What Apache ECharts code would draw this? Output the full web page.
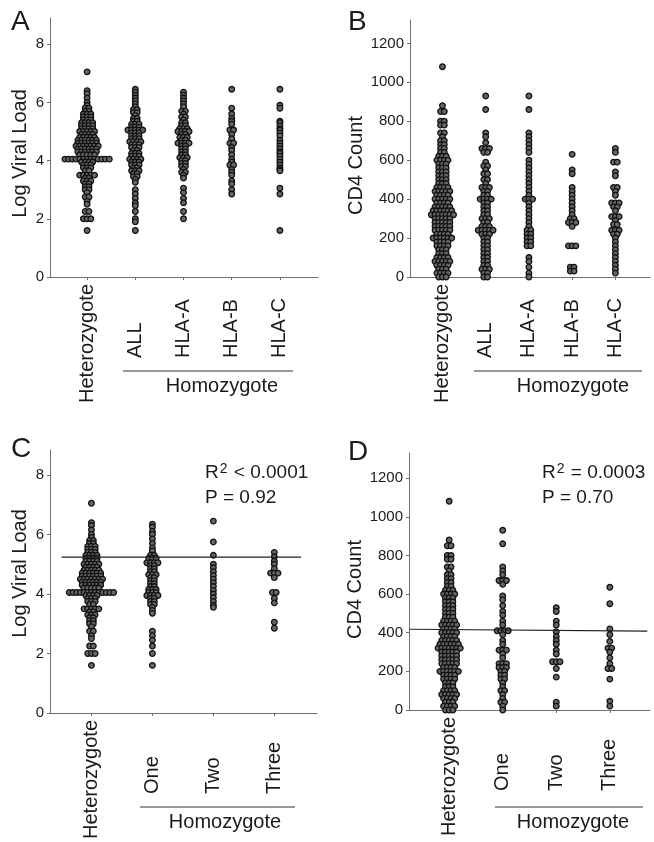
<!DOCTYPE html>
<html>
<head>
<meta charset="utf-8">
<script src="https://cdn.jsdelivr.net/npm/echarts@6/dist/echarts.min.js"></script>
<style>
html, body { margin: 0; padding: 0; background: #fff; }
#main { width: 654px; height: 842px; }
</style>
</head>
<body>
<div id="main"></div>
<script>
// group labels
var groupsAB = ['Heterozygote', 'ALL', 'HLA-A', 'HLA-B', 'HLA-C'];
var groupsCD = ['Heterozygote', 'One', 'Two', 'Three'];
var vlTicks = [0, 2, 4, 6, 8];
var cd4Ticks = [0, 200, 400, 600, 800, 1000, 1200];

// log viral load, one value per patient
var vlHetero = [7.05, 6.4, 6.3, 6.15, 6.0, 5.9, 5.8, 5.8, 5.7, 5.7, 5.6, 5.6, 5.6, 5.5, 5.5, 5.5, 5.4, 5.4, 5.4,
  5.3, 5.3, 5.3, 5.3, 5.2, 5.2, 5.2, 5.2, 5.1, 5.1, 5.1, 5.1, 5.0, 5.0, 5.0, 5.0, 5.0,
  4.9, 4.9, 4.9, 4.9, 4.8, 4.8, 4.8, 4.8, 4.8, 4.7, 4.7, 4.7, 4.7, 4.7, 4.7,
  4.6, 4.6, 4.6, 4.6, 4.6, 4.6, 4.5, 4.5, 4.5, 4.5, 4.5, 4.5, 4.5, 4.4, 4.4, 4.4, 4.4, 4.4, 4.4,
  4.3, 4.3, 4.3, 4.3, 4.3, 4.3, 4.2, 4.2, 4.2, 4.2, 4.2,
  4.05, 4.05, 4.05, 4.05, 4.05, 4.05, 4.05, 4.05, 4.05, 4.05, 4.05, 4.05, 4.05,
  3.95, 3.95, 3.95, 3.95, 3.85, 3.85, 3.85, 3.75, 3.75, 3.75, 3.65, 3.65, 3.5, 3.5, 3.5, 3.5, 3.5,
  3.4, 3.4, 3.3, 3.3, 3.3, 3.2, 3.2, 3.1, 3.1, 3.0, 3.0, 2.9, 2.75, 2.75, 2.6, 2.5, 2.25, 2.25,
  2.0, 2.0, 2.0, 1.6];
var vlAll = [6.45, 6.35, 6.25, 6.15, 6.05, 5.95, 5.85, 5.75, 5.75, 5.65, 5.65, 5.55, 5.45, 5.45, 5.35, 5.35,
  5.25, 5.25, 5.25, 5.15, 5.15, 5.15, 5.05, 5.05, 5.05, 5.05, 5.05, 4.95, 4.95, 4.95, 4.85, 4.85, 4.85,
  4.75, 4.75, 4.75, 4.65, 4.65, 4.65, 4.65, 4.55, 4.55, 4.55, 4.45, 4.45, 4.45, 4.35, 4.35,
  4.25, 4.25, 4.25, 4.15, 4.15, 4.15, 4.05, 4.05, 4.05, 4.05, 3.95, 3.95, 3.95, 3.85, 3.85, 3.85,
  3.75, 3.75, 3.65, 3.65, 3.65, 3.55, 3.55, 3.45, 3.45, 3.35, 3.25, 3.0, 2.85, 2.7, 2.55, 2.45, 2.25,
  2.0, 1.9, 1.6];
var vlHlaA = [6.35, 6.25, 6.15, 6.05, 5.95, 5.85, 5.7, 5.7, 5.6, 5.5, 5.5, 5.4, 5.3, 5.3, 5.2, 5.2,
  5.1, 5.1, 5.1, 5.0, 5.0, 5.0, 5.0, 4.9, 4.9, 4.8, 4.8, 4.8, 4.7, 4.7, 4.6, 4.6, 4.6, 4.6,
  4.5, 4.5, 4.4, 4.4, 4.3, 4.3, 4.2, 4.2, 4.1, 4.1, 4.1, 4.0, 4.0, 3.9, 3.9, 3.8, 3.8, 3.7,
  3.6, 3.6, 3.5, 3.4, 3.05, 2.9, 2.7, 2.55, 2.25, 2.0];
var vlHlaB = [6.45, 5.8, 5.6, 5.45, 5.35, 5.25, 5.05, 5.05, 4.9, 4.75, 4.6, 4.6, 4.45, 4.35, 4.2,
  4.05, 3.95, 3.85, 3.85, 3.7, 3.6, 3.5, 3.3, 3.2, 3.0, 2.85];
var vlHlaC = [6.45, 5.9, 5.8, 5.35, 5.3, 5.2, 5.1, 5.05, 4.95, 4.85, 4.7, 4.6, 4.5, 4.4, 4.3, 4.25,
  4.15, 4.05, 3.95, 3.85, 3.75, 3.7, 3.65, 3.05, 2.85, 1.6];
var vlOne = [6.35, 6.25, 6.1, 6.0, 5.85, 5.7, 5.55, 5.45, 5.3, 5.3, 5.2, 5.2, 5.2, 5.05, 5.05, 5.05, 5.05,
  4.95, 4.95, 4.85, 4.85, 4.75, 4.75, 4.65, 4.65, 4.65, 4.55, 4.55, 4.45, 4.45, 4.35, 4.35, 4.25, 4.25,
  4.15, 4.15, 4.15, 4.05, 4.05, 4.05, 3.95, 3.95, 3.95, 3.95, 3.85, 3.85, 3.75, 3.75, 3.65, 3.65,
  3.55, 3.45, 3.35, 2.75, 2.6, 2.45, 2.25, 2.0, 1.6];
var vlTwo = [6.45, 5.75, 5.3, 5.0, 4.88, 4.75, 4.62, 4.5, 4.38, 4.25, 4.12, 4.0, 3.88, 3.75, 3.62, 3.55];
var vlThree = [5.4, 5.25, 5.1, 5.0, 4.85, 4.7, 4.7, 4.7, 4.55, 4.05, 4.05, 3.85, 3.7, 3.05, 2.85];

// CD4 count, one value per patient
var cd4Hetero = [1080, 880, 850, 850, 800, 800, 780, 780, 740, 740, 720, 700, 700, 680, 680, 660, 660, 640, 640,
  620, 620, 620, 600, 600, 600, 600, 580, 580, 580, 560, 560, 560, 540, 540, 540, 520, 520, 520,
  500, 500, 500, 480, 480, 480, 460, 460, 460, 460, 440, 440, 440, 440, 440, 420, 420, 420, 420,
  400, 400, 400, 400, 400, 380, 380, 380, 380, 360, 360, 360, 360, 360, 340, 340, 340, 340, 340, 340,
  320, 320, 320, 320, 320, 320, 320, 300, 300, 300, 300, 300, 280, 280, 280, 280, 280,
  260, 260, 260, 260, 260, 240, 240, 240, 240, 240, 220, 220, 220, 220, 200, 200, 200, 200, 200, 200,
  180, 180, 180, 180, 160, 160, 160, 160, 140, 140, 140, 120, 120, 120, 100, 100, 100, 100,
  80, 80, 80, 80, 80, 60, 60, 60, 60, 40, 40, 40, 20, 20, 20, 20, 0, 0, 0];
var cd4All = [930, 860, 740, 720, 690, 660, 660, 660, 640, 640, 590, 570, 570, 550, 530, 530, 500, 500, 480,
  460, 460, 460, 440, 440, 420, 420, 400, 400, 400, 400, 380, 380, 360, 360, 340, 340, 320, 320,
  300, 300, 300, 280, 280, 260, 260, 260, 240, 240, 240, 240, 240, 220, 220, 220, 200, 200,
  180, 180, 160, 160, 140, 140, 120, 120, 100, 100, 80, 80, 60, 60, 40, 40, 40, 20, 20, 0, 0];
var cd4HlaA = [930, 860, 740, 720, 700, 680, 660, 640, 600, 580, 560, 540, 520, 500, 480, 460, 440, 420,
  400, 400, 400, 380, 360, 340, 320, 300, 280, 260, 240, 240, 220, 220, 200, 200, 180, 180, 160, 160,
  100, 80, 50, 20, 0];
var cd4HlaB = [630, 550, 530, 460, 440, 420, 400, 380, 360, 340, 320, 300, 300, 280, 280, 280, 260,
  160, 160, 160, 50, 50, 30, 30];
var cd4HlaC = [660, 640, 590, 590, 540, 520, 460, 460, 440, 420, 380, 380, 380, 360, 360, 340,
  310, 310, 310, 290, 270, 270, 240, 240, 240, 220, 220, 200, 180, 160, 140, 120, 100, 80, 60, 40, 20];
var cd4One = [930, 860, 740, 720, 700, 670, 670, 670, 650, 590, 570, 540, 510, 490, 460, 440,
  410, 410, 410, 410, 390, 360, 340, 310, 310, 310, 290, 270, 240, 240, 240, 220, 220, 220,
  200, 200, 180, 180, 160, 160, 140, 120, 100, 100, 80, 60, 40, 40, 20, 0];
var cd4Two = [530, 510, 460, 440, 405, 380, 360, 340, 310, 290, 250, 250, 250, 215, 170, 40, 20];
var cd4Three = [635, 550, 420, 390, 355, 320, 320, 300, 270, 240, 215, 215, 160, 45, 20];

// fitted regression lines (x in group index)
var fitVlX = [-0.49, 3.44];
var fitVlY = [5.24, 5.24];
var fitCd4X = [-0.74, 3.7];
var fitCd4Y = [418, 408];

var FONT = '"Liberation Sans", Arial, sans-serif';
var INK = '#1a1a1a';
var AXIS = '#707070';

var panels = [
  { grid: { left: 50, top: 18, width: 268, height: 259 }, xMin: -0.77, xMax: 4.79, yMax: 8.9,
    ticks: vlTicks, cats: groupsAB, name: 'Log Viral Load', nameGap: 20, namePad: [0, 12, 0, 0],
    cols: [vlHetero, vlAll, vlHlaA, vlHlaB, vlHlaC] },
  { grid: { left: 410, top: 20, width: 240, height: 257 }, xMin: -0.75, xMax: 4.8, yMax: 1320,
    ticks: cd4Ticks, cats: groupsAB, name: 'CD4 Count', nameGap: 41, namePad: [0, 34, 0, 0],
    cols: [cd4Hetero, cd4All, cd4HlaA, cd4HlaB, cd4HlaC] },
  { grid: { left: 50, top: 450, width: 267, height: 263 }, xMin: -0.68, xMax: 3.7, yMax: 8.84,
    ticks: vlTicks, cats: groupsCD, name: 'Log Viral Load', nameGap: 20, namePad: [0, 0, 0, 16],
    cols: [vlHetero, vlOne, vlTwo, vlThree] },
  { grid: { left: 409, top: 453, width: 241, height: 257 }, xMin: -0.75, xMax: 3.75, yMax: 1330,
    ticks: cd4Ticks, cats: groupsCD, name: 'CD4 Count', nameGap: 40, namePad: [0, 16, 0, 0],
    cols: [cd4Hetero, cd4One, cd4Two, cd4Three] }
];

var grids = [], xAxes = [], yAxes = [], series = [];
panels.forEach(function (p, g) {
  var gr = Object.assign({ outerBoundsMode: 'none', containLabel: false }, p.grid);
  grids.push(gr);
  var idx = p.cats.map(function (c, i) { return i; });
  xAxes.push({
    type: 'value', gridIndex: g, position: 'bottom', min: p.xMin, max: p.xMax,
    splitLine: { show: false },
    axisLine: { onZero: false, lineStyle: { color: AXIS, width: 1 } },
    axisTick: { customValues: idx, length: 3, lineStyle: { color: AXIS } },
    axisLabel: {
      customValues: [0], rotate: 90, margin: 7, color: INK, fontSize: 20, fontFamily: FONT,
      formatter: function (v) { return p.cats[Math.round(v)]; }
    }
  });
  xAxes.push({
    type: 'value', gridIndex: g, position: 'bottom', min: p.xMin, max: p.xMax,
    splitLine: { show: false }, axisLine: { show: false, onZero: false }, axisTick: { show: false },
    axisLabel: {
      customValues: idx.slice(1), rotate: 90, align: 'left', margin: 81, color: INK, fontSize: 20, fontFamily: FONT,
      formatter: function (v) { return p.cats[Math.round(v)]; }
    }
  });
  yAxes.push({
    type: 'value', gridIndex: g, position: 'left', min: 0, max: p.yMax,
    splitLine: { show: false },
    axisLine: { show: true, onZero: false, lineStyle: { color: AXIS, width: 1 } },
    axisTick: { show: true, customValues: p.ticks, length: 3, lineStyle: { color: AXIS } },
    axisLabel: { customValues: p.ticks, margin: 6, color: INK, fontSize: 15, fontFamily: FONT,
      formatter: function (v) { return String(v); } },
    name: p.name, nameLocation: 'middle', nameGap: p.nameGap,
    nameTextStyle: { color: INK, fontSize: 20, fontFamily: FONT, padding: p.namePad }
  });
  series.push({
    id: 'dots' + g, type: 'scatter', xAxisIndex: 2 * g, yAxisIndex: g,
    symbol: 'circle', symbolSize: 5.6, silent: true, data: [],
    itemStyle: { color: '#666', borderColor: '#111', borderWidth: 1.3, opacity: 1 }
  });
});

function fitData(xs, ys) {
  return xs.map(function (x, i) { return [x, ys[i]]; });
}
series.push({
  type: 'line', xAxisIndex: 4, yAxisIndex: 2, data: fitData(fitVlX, fitVlY), showSymbol: false, silent: true,
  lineStyle: { color: '#222', width: 1.2 }
});
series.push({
  type: 'line', xAxisIndex: 6, yAxisIndex: 3, data: fitData(fitCd4X, fitCd4Y), showSymbol: false, silent: true,
  lineStyle: { color: '#222', width: 1.2 }
});

function letter(t, left, top) {
  return { text: t, left: left, top: top, padding: 0,
    textStyle: { fontSize: 28, fontWeight: 'normal', color: INK, fontFamily: FONT } };
}
function stat(t, left, top) {
  return { text: t, left: left, top: top, padding: 0,
    textStyle: { fontSize: 19, fontWeight: 'normal', color: INK, fontFamily: FONT,
      rich: { sup: { fontSize: 14, color: INK, fontFamily: FONT, padding: [0, 1, 7, 1] } } } };
}

function homozygote(x1, x2, yLine, xText) {
  return [
    { type: 'line', shape: { x1: x1, y1: yLine, x2: x2, y2: yLine }, style: { stroke: '#333', lineWidth: 1.2 } },
    { type: 'text', x: xText, y: yLine + 15, style: { text: 'Homozygote', fill: INK, fontSize: 20, fontFamily: FONT,
      textAlign: 'center', textVerticalAlign: 'middle' } }
  ];
}

var chart = echarts.init(document.getElementById('main'));
chart.setOption({
  animation: false,
  backgroundColor: '#fff',
  title: [
    letter('A', 11, 8), letter('B', 348, 8), letter('C', 11, 435), letter('D', 348, 438),
    stat('R{sup|2} < 0.0001', 205, 462), stat('P = 0.92', 205, 488),
    stat('R{sup|2} = 0.0003', 542, 462), stat('P = 0.70', 542, 488)
  ],
  grid: grids,
  xAxis: xAxes,
  yAxis: yAxes,
  graphic: [].concat(
    homozygote(123, 293, 371, 222),
    homozygote(474, 642, 371, 573),
    homozygote(140, 295, 807, 225),
    homozygote(495, 643, 807, 573)
  ),
  series: series
});

// lay the dots out side by side when values coincide (dot-plot style)
var STEP = 3.7; // px between neighbours in a row
var dotSeries = panels.map(function (p, g) {
  var pxPerUnit = chart.convertToPixel({ xAxisIndex: 2 * g }, 1) - chart.convertToPixel({ xAxisIndex: 2 * g }, 0);
  var off = STEP / pxPerUnit;
  var pts = [];
  p.cols.forEach(function (vals, c) {
    var rows = {};
    var keys = [];
    vals.forEach(function (v) {
      if (!rows[v]) { rows[v] = 0; keys.push(v); }
      rows[v]++;
    });
    keys.forEach(function (v) {
      var n = rows[v];
      for (var i = 0; i < n; i++) pts.push([c + (i - (n - 1) / 2) * off, v]);
    });
  });
  return { id: 'dots' + g, data: pts };
});
chart.setOption({ series: dotSeries });
</script>
</body>
</html>
